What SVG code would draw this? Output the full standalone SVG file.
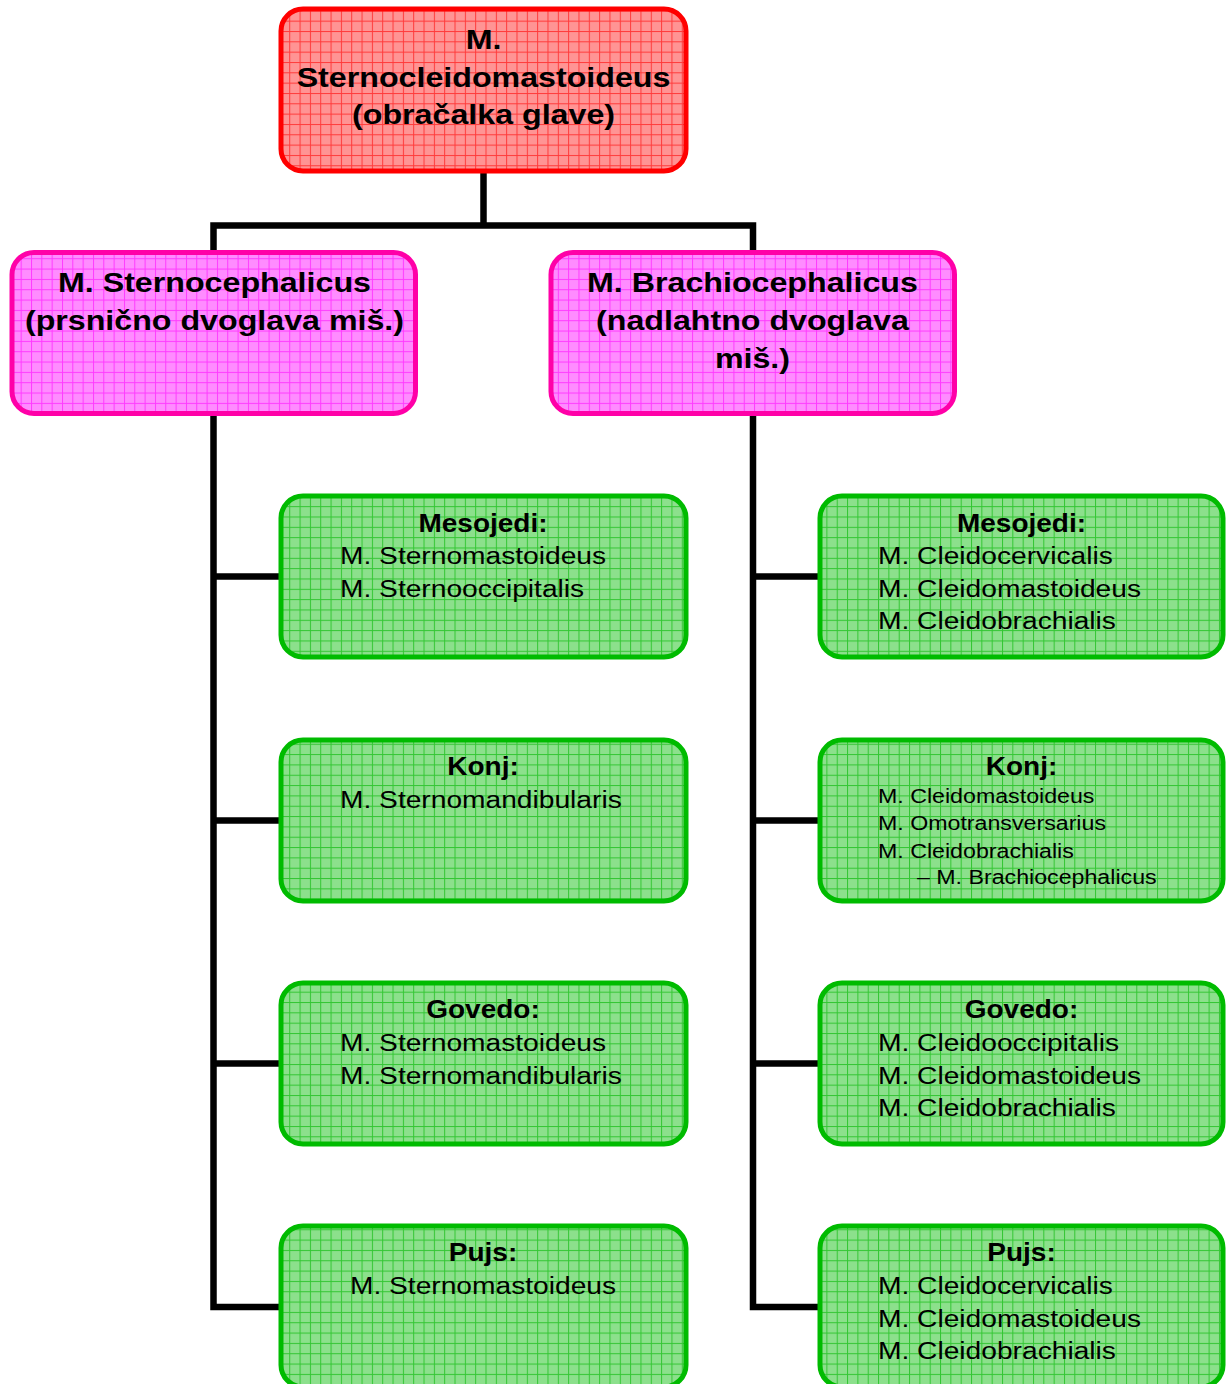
<svg xmlns="http://www.w3.org/2000/svg" width="1227" height="1384" viewBox="0 0 1227 1384">
<defs>
<pattern id="gRed" patternUnits="userSpaceOnUse" width="10.33" height="10.33">
<rect width="10.33" height="10.33" fill="#FF9494"/>
<rect width="10.33" height="1" fill="#FF3A3A"/>
<rect width="1" height="10.33" fill="#FF3A3A"/>
</pattern>
<pattern id="gMag" patternUnits="userSpaceOnUse" width="10.33" height="10.33">
<rect width="10.33" height="10.33" fill="#FF8CFF"/>
<rect width="10.33" height="1" fill="#FF3AFF"/>
<rect width="1" height="10.33" fill="#FF3AFF"/>
</pattern>
<pattern id="gGrn" patternUnits="userSpaceOnUse" width="10.33" height="10.33">
<rect width="10.33" height="10.33" fill="#8CE08C"/>
<rect width="10.33" height="1" fill="#33C633"/>
<rect width="1" height="10.33" fill="#33C633"/>
</pattern>
</defs>
<style>
.red{fill:url(#gRed);stroke:#FF0000;stroke-width:5}
.mag{fill:url(#gMag);stroke:#FF00A8;stroke-width:5}
.grn{fill:url(#gGrn);stroke:#00BB00;stroke-width:5}
text{font-family:"Liberation Sans",Arial,sans-serif;fill:#000}
.hb{font-size:28px;font-weight:bold;text-anchor:middle}
.tb{font-size:25px;font-weight:bold;text-anchor:middle}
.ln{font-size:24.5px}
.lc{font-size:24.5px;text-anchor:middle}
.sm{font-size:20px}
.conn{fill:none;stroke:#000;stroke-width:6.5;stroke-linejoin:miter;stroke-linecap:butt}
</style>
<rect width="1227" height="1384" fill="#fff"/>
<g id="connectors">
<path class="conn" d="M483.5 171 V225.5"/>
<path class="conn" d="M213.5 252 V225.5 H753 V252"/>
<path class="conn" d="M213.5 413 V1307 H281"/>
<path class="conn" d="M213.5 576.5 H281 M213.5 820.5 H281 M213.5 1063.5 H281"/>
<path class="conn" d="M753 413 V1307 H820"/>
<path class="conn" d="M753 576.5 H820 M753 820.5 H820 M753 1063.5 H820"/>
</g>
<g id="root">
<rect class="red" x="281" y="9" width="405" height="162" rx="22"/>
<g transform="matrix(1.15 0 0 1 -72.5 0)">
<text class="hb" x="483.5" y="49.5">M.</text>
<text class="hb" x="483.5" y="87">Sternocleidomastoideus</text>
<text class="hb" x="483.5" y="124">(obračalka glave)</text>
</g>
</g>
<g id="sternocephalicus">
<rect class="mag" x="12" y="252.5" width="403.5" height="161" rx="22"/>
<g transform="matrix(1.15 0 0 1 -32.2 0)">
<text class="hb" x="214.5" y="292.5">M. Sternocephalicus</text>
<text class="hb" x="214.5" y="330">(prsnično dvoglava miš.)</text>
</g>
</g>
<g id="brachiocephalicus">
<rect class="mag" x="551" y="252.5" width="403.5" height="161" rx="22"/>
<g transform="matrix(1.15 0 0 1 -112.9 0)">
<text class="hb" x="752.5" y="292.5">M. Brachiocephalicus</text>
<text class="hb" x="752.5" y="330">(nadlahtno dvoglava</text>
<text class="hb" x="752.5" y="368">miš.)</text>
</g>
</g>
<g id="l-mesojedi">
<rect class="grn" x="281" y="496" width="405" height="161" rx="22"/>
<text class="tb" x="483" y="532" transform="matrix(1.12 0 0 1 -57.96 0)">Mesojedi:</text>
<g transform="matrix(1.15 0 0 1 -51 0)">
<text class="ln" x="340" y="564">M. Sternomastoideus</text>
<text class="ln" x="340" y="596.7">M. Sternooccipitalis</text>
</g>
</g>
<g id="l-konj">
<rect class="grn" x="281" y="740" width="405" height="161" rx="22"/>
<text class="tb" x="483" y="775.5" transform="matrix(1.12 0 0 1 -57.96 0)">Konj:</text>
<g transform="matrix(1.15 0 0 1 -51 0)">
<text class="ln" x="340" y="808">M. Sternomandibularis</text>
</g>
</g>
<g id="l-govedo">
<rect class="grn" x="281" y="983" width="405" height="161" rx="22"/>
<text class="tb" x="483" y="1018.5" transform="matrix(1.12 0 0 1 -57.96 0)">Govedo:</text>
<g transform="matrix(1.15 0 0 1 -51 0)">
<text class="ln" x="340" y="1051">M. Sternomastoideus</text>
<text class="ln" x="340" y="1084">M. Sternomandibularis</text>
</g>
</g>
<g id="l-pujs">
<rect class="grn" x="281" y="1226" width="405" height="161" rx="22"/>
<text class="tb" x="483" y="1261.5" transform="matrix(1.12 0 0 1 -57.96 0)">Pujs:</text>
<text class="lc" x="483" y="1294" transform="matrix(1.15 0 0 1 -72.45 0)">M. Sternomastoideus</text>
</g>
<g id="r-mesojedi">
<rect class="grn" x="820" y="496" width="403" height="161" rx="22"/>
<text class="tb" x="1021.5" y="532" transform="matrix(1.12 0 0 1 -122.58 0)">Mesojedi:</text>
<g transform="matrix(1.15 0 0 1 -131.7 0)">
<text class="ln" x="878" y="564.3">M. Cleidocervicalis</text>
<text class="ln" x="878" y="596.8">M. Cleidomastoideus</text>
<text class="ln" x="878" y="629.3">M. Cleidobrachialis</text>
</g>
</g>
<g id="r-konj">
<rect class="grn" x="820" y="740" width="403" height="161" rx="22"/>
<text class="tb" x="1021.5" y="775.5" transform="matrix(1.12 0 0 1 -122.58 0)">Konj:</text>
<g transform="matrix(1.16 0 0 1 -140.48 0)">
<text class="sm" x="878" y="803.3">M. Cleidomastoideus</text>
<text class="sm" x="878" y="830">M. Omotransversarius</text>
<text class="sm" x="878" y="857.7">M. Cleidobrachialis</text>
<text class="sm" x="911.6" y="884">– M. Brachiocephalicus</text>
</g>
</g>
<g id="r-govedo">
<rect class="grn" x="820" y="983" width="403" height="161" rx="22"/>
<text class="tb" x="1021.5" y="1018.5" transform="matrix(1.12 0 0 1 -122.58 0)">Govedo:</text>
<g transform="matrix(1.15 0 0 1 -131.7 0)">
<text class="ln" x="878" y="1051">M. Cleidooccipitalis</text>
<text class="ln" x="878" y="1084">M. Cleidomastoideus</text>
<text class="ln" x="878" y="1116.5">M. Cleidobrachialis</text>
</g>
</g>
<g id="r-pujs">
<rect class="grn" x="820" y="1226" width="403" height="161" rx="22"/>
<text class="tb" x="1021.5" y="1261.5" transform="matrix(1.12 0 0 1 -122.58 0)">Pujs:</text>
<g transform="matrix(1.15 0 0 1 -131.7 0)">
<text class="ln" x="878" y="1294">M. Cleidocervicalis</text>
<text class="ln" x="878" y="1327">M. Cleidomastoideus</text>
<text class="ln" x="878" y="1359.5">M. Cleidobrachialis</text>
</g>
</g>
</svg>
